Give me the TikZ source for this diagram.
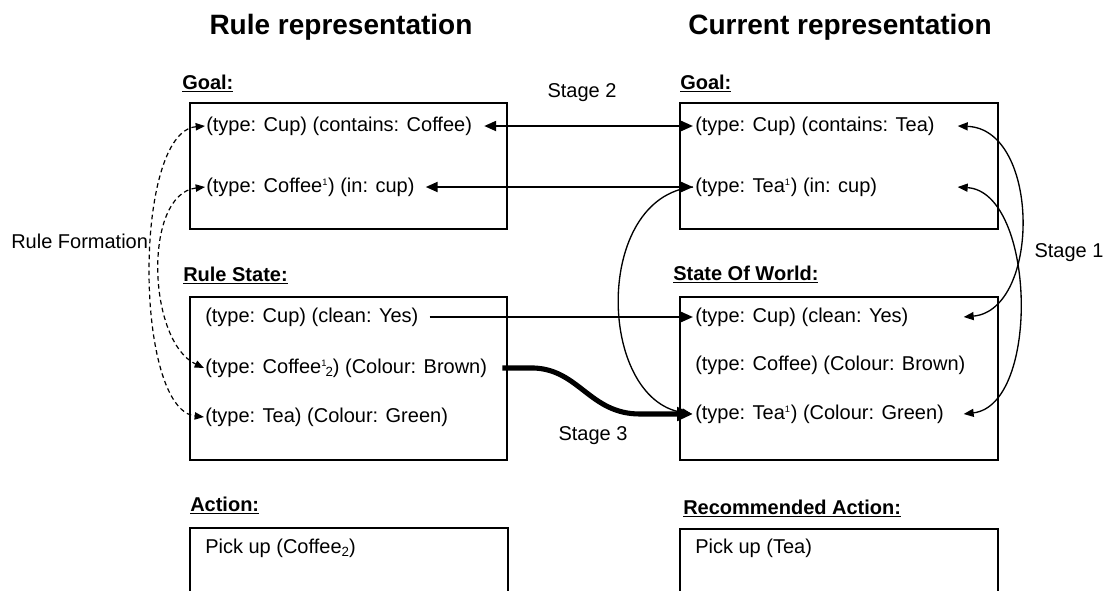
\documentclass[tikz,border=0pt]{standalone}
\usepackage{fontspec}
\setmainfont{Liberation Sans}
\usetikzlibrary{arrows.meta,calc,fit}
\newcommand{\supone}{\textsuperscript{\fontsize{7}{7}\selectfont 1}}
\newcommand{\subtwo}{\raisebox{-0.35ex}{\fontsize{10}{10}\selectfont 2}}
\newcommand{\ulhead}[1]{\setbox0\hbox{#1}\rlap{\rule[-2.6pt]{\wd0}{1.1pt}}\box0}
\begin{document}
\begin{tikzpicture}[x=0.75pt,y=-0.75pt,
  txt/.style={anchor=west,inner sep=0pt,font=\fontsize{15}{18}\selectfont},
  lbl/.style={inner sep=0pt,font=\fontsize{15}{18}\selectfont},
  headl/.style={anchor=base west,inner sep=0pt,font=\fontsize{15}{18}\selectfont\bfseries},
  ttl/.style={inner sep=0pt,font=\fontsize{21}{25}\selectfont\bfseries},
  box/.style={draw,line width=1pt,inner sep=0pt},
  twohead/.style={line width=1.6pt,{Triangle[length=9pt,width=7.5pt]}-{Triangle[length=9pt,width=7.5pt]}},
  onehead/.style={line width=1.6pt,-{Triangle[length=9pt,width=7.5pt]}},
  thinboth/.style={line width=1pt,{Triangle[length=7.5pt,width=6pt]}-{Triangle[length=7.5pt,width=6pt]}},
  thinone/.style={line width=1pt,-{Triangle[length=7.5pt,width=6pt]}},
  dashboth/.style={line width=0.9pt,dash pattern=on 3.5pt off 2.5pt,{Triangle[length=7pt,width=5.5pt]}-{Triangle[length=7pt,width=5.5pt]}},
  heavy/.style={line width=3.8pt,-{Triangle[length=12pt,width=10pt]}}
]
\useasboundingbox (0,0) rectangle (1109,590);
\clip (0,0) rectangle (1109,590);

% titles
\node[ttl] (tL) at (341,27) {Rule representation};
\node[ttl] (tR) at (840,27) {Current representation};

% boxes
\node[box,fit={(190,103) (507,229)}] (goalL) {};
\node[box,fit={(680,103) (998,229)}] (goalR) {};
\node[box,fit={(190,297) (507,460)}] (rsL) {};
\node[box,fit={(680,297) (998,460)}] (sowR) {};
\node[box,fit={(190,528) (508,600)}] (actL) {};
\node[box,fit={(680,529) (998,600)}] (actR) {};

% headings
\node[headl] (hgL) at (182,89) {\ulhead{Goal:}};
\node[headl] (hgR) at (680,89) {\ulhead{Goal:}};
\node[headl] (hrs) at (183,281) {\ulhead{Rule State:}};
\node[headl] (hsw) at (673,280) {\ulhead{State Of World:}};
\node[headl] (hac) at (190,511) {\ulhead{Action:}};
\node[headl] (hra) at (683,514) {\ulhead{Recommended Action:}};

% left goal
\node[txt] (gL1) at (206,126) {(type: Cup) (contains: Coffee)};
\node[txt] (gL2) at (206,187) {(type: Coffee\supone) (in: cup)};
% right goal
\node[txt] (gR1) at (695,126) {(type: Cup) (contains: Tea)};
\node[txt] (gR2) at (695,187) {(type: Tea\supone) (in: cup)};
% rule state
\node[txt] (rs1) at (205,317) {(type: Cup) (clean: Yes)};
\node[txt] (rs2) at (205,368) {(type: Coffee\supone\kern-1.2pt\subtwo) (Colour: Brown)};
\node[txt] (rs3) at (205,417) {(type: Tea) (Colour: Green)};
% state of world
\node[txt] (sw1) at (695,317) {(type: Cup) (clean: Yes)};
\node[txt] (sw2) at (695,365) {(type: Coffee) (Colour: Brown)};
\node[txt] (sw3) at (695,414) {(type: Tea\supone) (Colour: Green)};
% actions
\node[txt] (a1) at (205,548) {Pick up (Coffee\subtwo)};
\node[txt] (a2) at (695,548) {Pick up (Tea)};

% labels
\node[txt] (rf) at (11,241) {Rule Formation};
\node[lbl] (st2) at (582,93) {Stage 2};
\node[lbl] (st1) at (1069,253) {Stage 1};
\node[lbl] (st3) at (593,436) {Stage 3};

% stage 2
\draw[twohead] ($(gL1.east)+(12,0)$) -- ($(gR1.west)+(-2,0)$);
\draw[twohead] ($(gL2.east)+(11,0)$) -- ($(gR2.west)+(-2,0)$);

% rule state -> state of world
\draw[onehead] ($(rs1.east)+(11,0)$) -- ($(sw1.west)+(-2,0)$);

% stage 3 heavy curve
\coordinate (k0) at ($(rs2.east)+(15,0)$);
\coordinate (k2) at ($(sw3.west)+(-55,0)$);
\draw[heavy] (k0) -- ++(32,0) .. controls +(45,2) and +(-50,0) .. (k2) -- ($(sw3.west)+(-2,0)$);

% stage 3 thin curve
\draw[thinone] ($(gR2.west)+(-2,0)$) .. controls +(-100,10) and +(-95,-15) .. ($(sw3.west)+(-3,0)$);

% stage 1 curves
\coordinate (p1) at ($(goalR.east |- gR1.west)+(-41,0)$);
\coordinate (q1) at ($(sowR.east |- sw1.west)+(-35,0)$);
\coordinate (p2) at ($(goalR.east |- gR2.west)+(-41,0)$);
\coordinate (q2) at ($(sowR.east |- sw3.west)+(-35,0)$);
\draw[thinboth] (p1) .. controls +(83,3) and +(77,-7) .. (q1);
\draw[thinboth] (p2) .. controls +(78,5) and +(77,-9) .. (q2);

% rule formation dashed curves
\draw[dashboth] ($(gL1.west)+(-1,0)$) .. controls +(-72,6) and +(-70,-8) .. ($(rs3.west)+(-1,0)$);
\draw[dashboth] ($(gL2.west)+(-1,0)$) .. controls +(-62,7) and +(-57,-27) .. ($(rs2.west)+(-1,0)$);
\end{tikzpicture}
\end{document}
